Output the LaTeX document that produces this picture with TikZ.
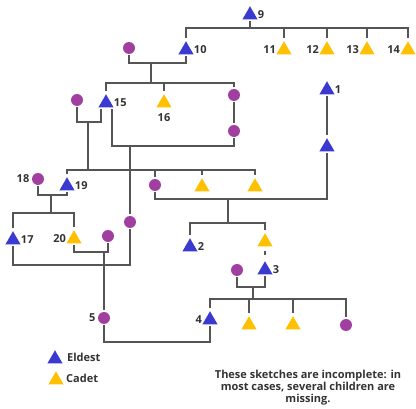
\documentclass[tikz,border=0pt]{standalone}
\usepackage{fontspec}
\setmainfont{Open Sans}
\usetikzlibrary{shapes.geometric}
\definecolor{eld}{HTML}{3A3AD0}
\definecolor{cad}{HTML}{FFC000}
\definecolor{pur}{HTML}{A03FA0}
\definecolor{ln}{HTML}{555555}
\definecolor{tx}{HTML}{333333}
\begin{document}
\begin{tikzpicture}[x=1pt,y=-1pt,
 tri/.style={regular polygon, regular polygon sides=3, minimum size=17.5pt, inner sep=0pt, outer sep=1.5pt},
 eldest/.style={tri, fill=eld},
 cadet/.style={tri, fill=cad},
 fem/.style={circle, fill=pur, minimum size=12pt, inner sep=0pt, outer sep=1.5pt},
 lab/.style={font=\bfseries\fontsize{11}{12}\selectfont, text=tx, inner sep=1pt},
 link/.style={draw=ln, line width=1.9pt},
 every label/.style={lab}]
\useasboundingbox (0,0) rectangle (416,409);
% nodes
\node[eldest, label=right:9] (n9) at (250,15) {};
\node[eldest, label=right:10] (n10) at (186,50) {};
\node[cadet, label=left:11] (n11) at (284,50) {};
\node[cadet, label=left:12] (n12) at (327,50) {};
\node[cadet, label=left:13] (n13) at (367,50) {};
\node[cadet, label=left:14] (n14) at (408,50) {};
\node[fem] (w10) at (129,48) {};
\node[fem] (w15a) at (77,100) {};
\node[eldest, label=right:15] (n15) at (106,103) {};
\node[cadet, label={[label distance=3pt]below:16}] (n16) at (164,103) {};
\node[fem] (d10) at (234,95) {};
\node[fem] (w15b) at (234,131) {};
\node[eldest, label=right:1] (n1) at (327,90) {};
\node[eldest] (u1) at (327,147) {};
\node[fem, label=left:18] (n18) at (38,179) {};
\node[eldest, label=right:19] (n19) at (67,186) {};
\node[fem] (c155) at (155,185) {};
\node[cadet] (y1) at (202,187) {};
\node[cadet] (y2) at (255,187) {};
\node[fem] (c222) at (130,222) {};
\node[eldest, label=right:17] (n17) at (13,240) {};
\node[cadet, label=left:20] (n20) at (74,239) {};
\node[fem] (w20) at (108,236) {};
\node[eldest, label=right:2] (n2) at (190,247) {};
\node[cadet] (y3) at (265,242) {};
\node[eldest, label=right:3] (n3) at (265,270) {};
\node[fem] (w3) at (237,270) {};
\node[eldest, label=left:4] (n4) at (210,320) {};
\node[cadet] (y4) at (249,325) {};
\node[cadet] (y5) at (293,325) {};
\node[fem] (c347) at (346,325) {};
\node[fem, label=left:5] (n5) at (104,318) {};
% legend and note
\node[eldest] (le) at (55,359) {};
\node[lab, anchor=west] (lel) at (66,357) {Eldest};
\node[cadet] (lc) at (56,380) {};
\node[lab, anchor=west] (lcl) at (65,378) {Cadet};
\node[lab, align=center] (note) at (308,388) {These sketches are incomplete: in\\most cases, several children are\\missing.};
% junctions
\coordinate (s9) at (250,28);
\coordinate (m10) at (151,63);
\coordinate (s10) at (151,83);
\coordinate (m15a) at (88,122);
\coordinate (s15a) at (88,170);
\coordinate (m15b) at (130,146);
\coordinate (m18) at (51,195);
\coordinate (s18) at (51,213);
\coordinate (m20) at (104,252);
\coordinate (m17) at (104,265);
\coordinate (m5) at (157,342);
\coordinate (m1) at (228,199);
\coordinate (s1) at (228,223);
\coordinate (m3) at (253,287);
\coordinate (s3) at (253,299);
% connectors
\draw[link] (n9.south) -- (s9);
\draw[link] (n10.north) |- (s9) -| (n14.north);
\foreach \n in {n11,n12,n13} \draw[link] (\n.north) -- (\n.north |- s9);
\draw[link] (w10.south) |- (m10) -| (n10.south);
\draw[link] (m10) -- (s10);
\draw[link] (n15.north) |- (s10) -| (d10.north);
\draw[link] (n16.north) -- (n16.north |- s10);
\draw[link] (d10.south) -- (w15b.north);
\draw[link] (w15b.south) |- (m15b) -| ([xshift=6pt]n15.south);
\draw[link] (w15a.south) |- (m15a) -| ([xshift=-5pt]n15.south);
\draw[link] (m15a) -- (s15a);
\draw[link] (n19.north) |- (s15a) -| (y2.north);
\draw[link] (c155.north) -- (c155.north |- s15a);
\draw[link] (y1.north) -- (y1.north |- s15a);
\draw[link] (m15b) -- (c222.north);
\draw[link] (c222.south) |- (m17) -| (n17.south);
\draw[link] (n18.south) |- (m18) -| (n19.south);
\draw[link] (m18) -- (s18);
\draw[link] (n17.north) |- (s18) -| (n20.north);
\draw[link] (n20.south) |- (m20) -| (w20.south);
\draw[link] (m20) -- (n5.north);
\draw[link] (n5.south) |- (m5) -| (n4.south);
\draw[link] (n1.south) -- (u1.north);
\draw[link] (u1.south) |- (m1) -| (c155.south);
\draw[link] (m1) -- (s1);
\draw[link] (n2.north) |- (s1) -| (y3.north);
\draw[link, shorten <=3pt, shorten >=3pt] (y3.south) -- (n3.north);
\draw[link] (w3.south) |- (m3) -| (n3.south);
\draw[link] (m3) -- (s3);
\draw[link] (n4.north) |- (s3) -| (c347.north);
\draw[link] (y4.north) -- (y4.north |- s3);
\draw[link] (y5.north) -- (y5.north |- s3);
\end{tikzpicture}
\end{document}
